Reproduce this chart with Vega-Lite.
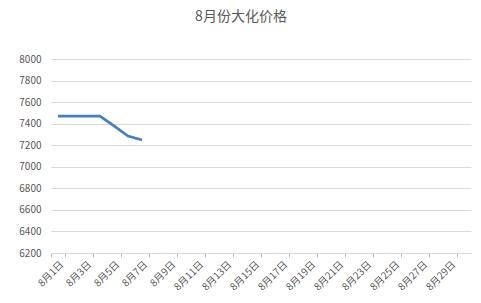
{
  "$schema": "https://vega.github.io/schema/vega-lite/v6.json",
  "autosize": "none",
  "width": 420,
  "height": 194,
  "padding": {"left": 51, "top": 59, "right": 10, "bottom": 50},
  "background": "white",
  "title": {
    "text": "8月份大化价格",
    "anchor": "middle",
    "dx": -20,
    "offset": 30,
    "font": "Noto Sans CJK SC",
    "fontSize": 14,
    "fontWeight": "normal",
    "color": "#595959"
  },
  "config": {
    "view": {"stroke": null},
    "axis": {"labelFont": "Noto Sans CJK SC", "labelColor": "#595959", "labelFontSize": 10}
  },
  "data": {
    "values": [
      {"date": "8月1日", "price": 7470},
      {"date": "8月2日", "price": 7470},
      {"date": "8月3日", "price": 7470},
      {"date": "8月4日", "price": 7470},
      {"date": "8月5日", "price": 7380},
      {"date": "8月6日", "price": 7285},
      {"date": "8月7日", "price": 7248}
    ]
  },
  "mark": {"type": "line", "color": "#4A7EBB", "strokeWidth": 2.75},
  "encoding": {
    "x": {
      "field": "date",
      "type": "ordinal",
      "sort": null,
      "scale": {
        "domain": ["8月1日","8月2日","8月3日","8月4日","8月5日","8月6日","8月7日","8月8日","8月9日","8月10日","8月11日","8月12日","8月13日","8月14日","8月15日","8月16日","8月17日","8月18日","8月19日","8月20日","8月21日","8月22日","8月23日","8月24日","8月25日","8月26日","8月27日","8月28日","8月29日","8月30日"],
        "paddingInner": 0,
        "paddingOuter": 0
      },
      "axis": {
        "title": null,
        "labelAngle": -45,
        "labelExpr": "indexof(['8月2日','8月4日','8月6日','8月8日','8月10日','8月12日','8月14日','8月16日','8月18日','8月20日','8月22日','8月24日','8月26日','8月28日','8月30日'], datum.value) >= 0 ? '' : datum.label",
        "tickBand": "extent",
        "tickSize": 4,
        "tickColor": "#BFBFBF",
        "tickOpacity": {"condition": {"test": "indexof(['8月2日','8月4日','8月6日','8月8日','8月10日','8月12日','8月14日','8月16日','8月18日','8月20日','8月22日','8月24日','8月26日','8月28日','8月30日'], datum.value) >= 0", "value": 0}, "value": 1},
        "domainColor": "#D9D9D9",
        "grid": false,
        "labelPadding": 2
      }
    },
    "y": {
      "field": "price",
      "type": "quantitative",
      "scale": {"domain": [6200, 8000], "nice": false, "zero": false},
      "axis": {
        "title": null,
        "format": "d",
        "values": [6200, 6400, 6600, 6800, 7000, 7200, 7400, 7600, 7800, 8000],
        "ticks": false,
        "domain": false,
        "gridColor": "#D9D9D9",
        "labelPadding": 10
      }
    }
  }
}
